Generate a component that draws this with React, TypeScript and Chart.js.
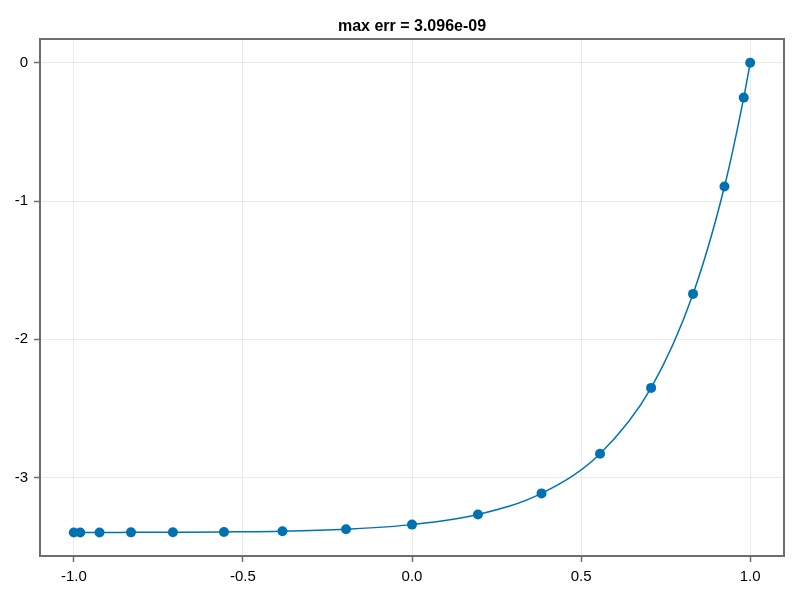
import React, { useEffect, useRef } from "react";
import { Chart, registerables } from "chart.js";

Chart.register(...registerables);

const titleText = "max err = 3.096e-09";
const xNodes = [-1, -0.981, -0.924, -0.831, -0.707, -0.556, -0.383, -0.195, 0, 0.195, 0.383, 0.556, 0.707, 0.831, 0.924, 0.981, 1];
const yValues = [-3.398, -3.398, -3.398, -3.397, -3.396, -3.394, -3.389, -3.374, -3.341, -3.268, -3.115, -2.828, -2.352, -1.672, -0.895, -0.252, 0];
const xTicks = [-1, -0.5, 0, 0.5, 1];
const xTickLabels = ["-1.0", "-0.5", "0.0", "0.5", "1.0"];
const yTicks = [-3, -2, -1, 0];
const yTickLabels = ["-3", "-2", "-1", "0"];

const COLOR = "#0072B2";
const SPINE = "#6e6e6e";

const framePlugin = {
  id: "frameAndTitle",
  afterDraw(chart: any) {
    const { ctx, chartArea } = chart;
    ctx.save();
    ctx.strokeStyle = SPINE;
    ctx.lineWidth = 2;
    ctx.strokeRect(chartArea.left, chartArea.top, chartArea.right - chartArea.left, chartArea.bottom - chartArea.top);
    ctx.fillStyle = "#000";
    ctx.font = "bold 16px 'Liberation Sans', Arial, sans-serif";
    ctx.textAlign = "center";
    ctx.textBaseline = "middle";
    ctx.fillText(titleText, (chartArea.left + chartArea.right) / 2, 27);
    ctx.restore();
  },
};

export default function App() {
  const ref = useRef<HTMLCanvasElement>(null);
  useEffect(() => {
    if (!ref.current) return;
    const data = xNodes.map((x, i) => ({ x, y: yValues[i] }));
    const chart = new Chart(ref.current, {
      type: "scatter",
      data: {
        datasets: [
          {
            data,
            showLine: true,
            borderColor: COLOR,
            backgroundColor: COLOR,
            borderWidth: 1.5,
            pointRadius: 5,
            pointBorderWidth: 0,
            pointBackgroundColor: COLOR,
            cubicInterpolationMode: "monotone",
          } as any,
        ],
      },
      options: {
        responsive: false,
        animation: false,
        devicePixelRatio: 1,
        layout: { padding: { top: 39, right: 16, left: 0, bottom: 0 } },
        plugins: { legend: { display: false }, tooltip: { enabled: false }, title: { display: false } },
        scales: {
          x: {
            type: "linear",
            min: -1.1,
            max: 1.1,
            afterBuildTicks: (scale: any) => {
              scale.ticks = xTicks.map((v) => ({ value: v }));
            },
            afterFit: (scale: any) => {
              scale.height = 44;
            },
            ticks: {
              color: "#000",
              font: { family: "'Liberation Sans', Arial, sans-serif", size: 15 },
              padding: 6,
              maxRotation: 0,
              autoSkip: false,
              callback: (v: any) => {
                const i = xTicks.indexOf(Number(v));
                return i >= 0 ? xTickLabels[i] : "";
              },
            },
            grid: { color: "rgba(0,0,0,0.08)", tickColor: SPINE, tickLength: 6, lineWidth: 1, tickWidth: 1.5 } as any,
            border: { display: false },
          },
          y: {
            type: "linear",
            min: -3.568,
            max: 0.172,
            afterBuildTicks: (scale: any) => {
              scale.ticks = yTicks.map((v) => ({ value: v }));
            },
            afterFit: (scale: any) => {
              scale.width = 40;
            },
            ticks: {
              color: "#000",
              font: { family: "'Liberation Sans', Arial, sans-serif", size: 15 },
              padding: 6,
              autoSkip: false,
              callback: (v: any) => {
                const i = yTicks.indexOf(Number(v));
                return i >= 0 ? yTickLabels[i] : "";
              },
            },
            grid: { color: "rgba(0,0,0,0.08)", tickColor: SPINE, tickLength: 6, lineWidth: 1, tickWidth: 1.5 } as any,
            border: { display: false },
          },
        },
      },
      plugins: [framePlugin],
    });
    return () => chart.destroy();
  }, []);
  return (
    <div style={{ position: "fixed", left: 0, top: 0, width: 800, height: 600, background: "#fff" }}>
      <canvas ref={ref} width={800} height={600} style={{ width: 800, height: 600 }} />
    </div>
  );
}
